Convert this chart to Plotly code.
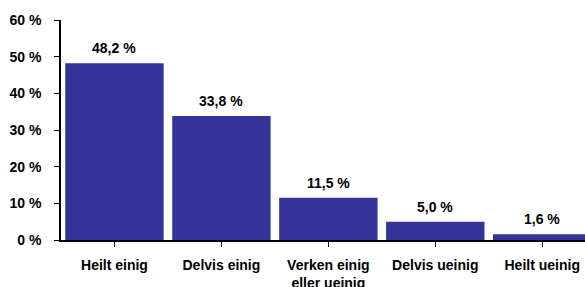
import plotly.graph_objects as go

categories = ["Heilt einig", "Delvis einig", "Verken einig<br>eller ueinig", "Delvis ueinig", "Heilt ueinig"]
values = [48.2, 33.8, 11.5, 5.0, 1.6]
value_labels = ["48,2 %", "33,8 %", "11,5 %", "5,0 %", "1,6 %"]
y_ticks = [0, 10, 20, 30, 40, 50, 60]
y_tick_labels = ["0 %", "10 %", "20 %", "30 %", "40 %", "50 %", "60 %"]

font = dict(family="Liberation Sans, Arial, sans-serif", size=14, color="black")

fig = go.Figure(go.Bar(
    x=list(range(len(categories))),
    y=values,
    marker=dict(color="#333399", line=dict(width=0)),
    cliponaxis=True,
    hoverinfo="skip",
))

for i, (v, lab) in enumerate(zip(values, value_labels)):
    fig.add_annotation(
        x=i, y=v, text=lab, showarrow=False,
        xanchor="center", yanchor="bottom", yshift=5,
        font=dict(family="Liberation Sans, Arial, sans-serif", size=14, color="black", weight="bold"),
    )

fig.update_layout(
    width=585, height=287,
    margin=dict(l=61, r=0, t=20, b=47, autoexpand=False),
    paper_bgcolor="white", plot_bgcolor="white",
    bargap=0.08,
    showlegend=False,
    font=font,
)
fig.update_xaxes(
    range=[-0.5, 4.4],
    automargin=False,
    tickmode="array",
    tickvals=list(range(len(categories))),
    ticktext=categories,
    tickfont=dict(size=14, weight="bold"),
    showline=True, linecolor="black", linewidth=1.5,
    ticks="outside", ticklen=5, tickcolor="black", tickwidth=1,
    ticklabelstandoff=6,
    showgrid=False, zeroline=False,
)
fig.update_yaxes(
    range=[0, 60],
    automargin=False,
    tickmode="array",
    tickvals=y_ticks,
    ticktext=y_tick_labels,
    tickfont=dict(size=14, weight="bold"),
    showline=True, linecolor="black", linewidth=1.5,
    ticks="outside", ticklen=5, tickcolor="black", tickwidth=1,
    ticklabelstandoff=10,
    showgrid=False, zeroline=False,
)

fig.write_html(
    "out.html",
    config={"displayModeBar": False},
    post_script="document.body.style.margin='0';document.body.style.overflow='hidden';",
)
